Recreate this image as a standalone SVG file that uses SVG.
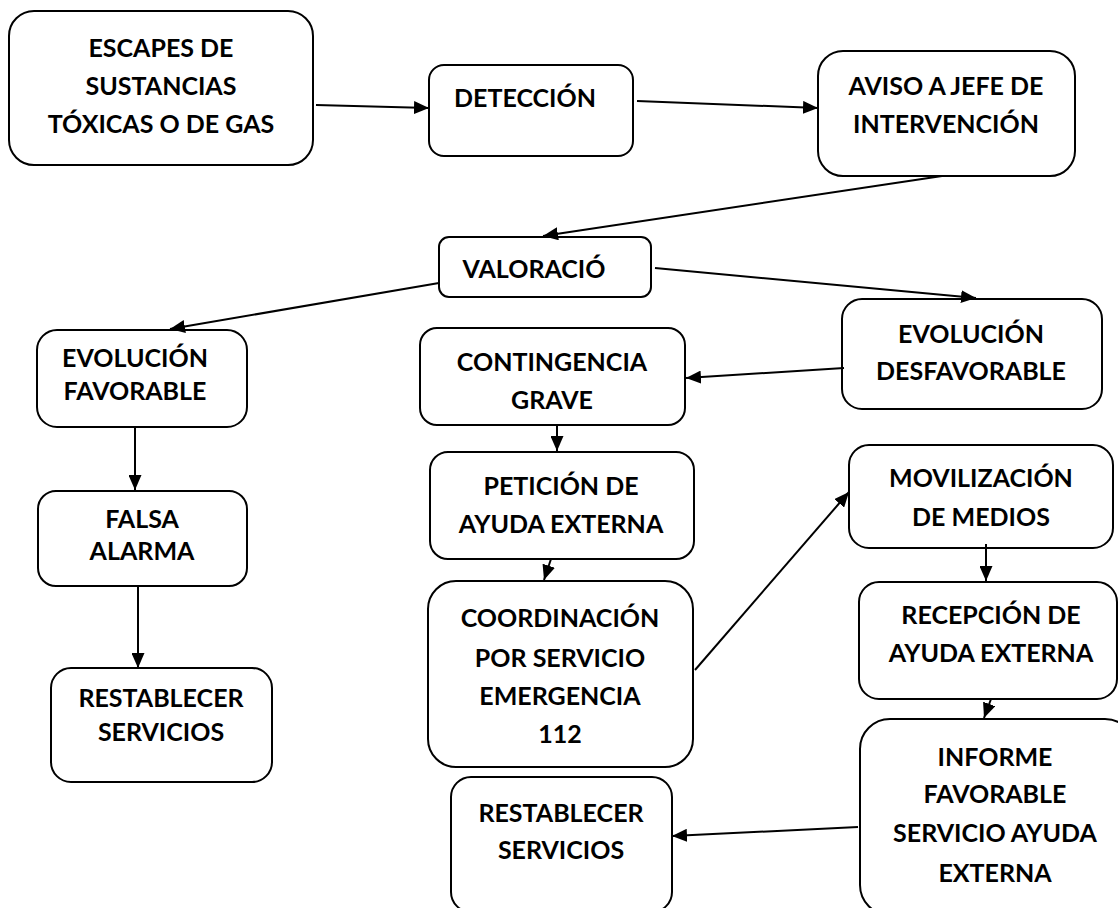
<svg xmlns="http://www.w3.org/2000/svg" width="1118" height="908" viewBox="0 0 1118 908">
<style>
rect{fill:#fff;stroke:#000;stroke-width:2}
text{font-family:Lato,"Liberation Sans",sans-serif;font-weight:bold;font-size:25px;fill:#000;text-anchor:middle}
.c line{stroke:#000;stroke-width:2;marker-end:url(#ah)}
</style>
<defs>
<marker id="ah" markerUnits="userSpaceOnUse" markerWidth="15" markerHeight="13" refX="15" refY="6.5" orient="auto">
<path d="M0,0 L15,6.5 L0,13 z" fill="#000"/>
</marker>
</defs>
<rect x="0" y="0" width="1118" height="908" style="stroke:none"/>
<g id="n1"><rect x="9" y="11" width="304" height="154" rx="25"/>
<text x="161" y="57">ESCAPES DE</text><text x="161" y="95">SUSTANCIAS</text><text x="161" y="133">TÓXICAS O DE GAS</text></g>
<g id="n2"><rect x="429" y="65" width="204" height="91" rx="15"/>
<text x="525" y="107">DETECCIÓN</text></g>
<g id="n3"><rect x="818" y="51" width="257" height="125" rx="25"/>
<text x="946" y="95">AVISO A JEFE DE</text><text x="946" y="133">INTERVENCIÓN</text></g>
<g id="n4"><rect x="439" y="237" width="212" height="60" rx="10"/>
<text x="534" y="278">VALORACIÓ</text></g>
<g id="n5"><rect x="842" y="299" width="260" height="110" rx="20"/>
<text x="971" y="343">EVOLUCIÓN</text><text x="971" y="380">DESFAVORABLE</text></g>
<g id="n6"><rect x="37" y="330" width="210" height="97" rx="20"/>
<text x="135" y="367">EVOLUCIÓN</text><text x="135" y="400">FAVORABLE</text></g>
<g id="n7"><rect x="420" y="328" width="265" height="97" rx="17"/>
<text x="552" y="371">CONTINGENCIA</text><text x="552" y="409">GRAVE</text></g>
<g id="n8"><rect x="38" y="491" width="209" height="95" rx="18"/>
<text x="142" y="528">FALSA</text><text x="142" y="560">ALARMA</text></g>
<g id="n9"><rect x="51" y="668" width="221" height="114" rx="20"/>
<text x="161" y="707">RESTABLECER</text><text x="161" y="741">SERVICIOS</text></g>
<g id="n10"><rect x="430" y="452" width="264" height="107" rx="18"/>
<text x="561" y="495">PETICIÓN DE</text><text x="561" y="533">AYUDA EXTERNA</text></g>
<g id="n11"><rect x="428" y="581" width="265" height="186" rx="28"/>
<text x="560" y="627">COORDINACIÓN</text><text x="560" y="667">POR SERVICIO</text><text x="560" y="705">EMERGENCIA</text><text x="560" y="743">112</text></g>
<g id="n12"><rect x="849" y="445" width="264" height="103" rx="20"/>
<text x="981" y="487">MOVILIZACIÓN</text><text x="981" y="526">DE MEDIOS</text></g>
<g id="n13"><rect x="859" y="582" width="258" height="117" rx="20"/>
<text x="991" y="624">RECEPCIÓN DE</text><text x="991" y="662">AYUDA EXTERNA</text></g>
<g id="n14"><rect x="860" y="719" width="275" height="196" rx="30"/>
<text x="995" y="766">INFORME</text><text x="995" y="803">FAVORABLE</text><text x="995" y="842">SERVICIO AYUDA</text><text x="995" y="882">EXTERNA</text></g>
<g id="n15"><rect x="451" y="777" width="221" height="135" rx="20"/>
<text x="561" y="822">RESTABLECER</text><text x="561" y="859">SERVICIOS</text></g>
<g id="connectors" class="c">
<line x1="316" y1="105" x2="429" y2="108"/>
<line x1="637" y1="101" x2="818" y2="108"/>
<line x1="942" y1="176" x2="543" y2="236"/>
<line x1="655" y1="268" x2="976" y2="298"/>
<line x1="439" y1="283" x2="170" y2="329"/>
<line x1="844" y1="368" x2="686" y2="378"/>
<line x1="557" y1="425" x2="557" y2="451"/>
<line x1="135" y1="427" x2="135" y2="490"/>
<line x1="138" y1="586" x2="138" y2="668"/>
<line x1="551" y1="559" x2="544" y2="580"/>
<line x1="695" y1="670" x2="849" y2="492"/>
<line x1="986" y1="544" x2="986" y2="581"/>
<line x1="991" y1="699" x2="984" y2="718"/>
<line x1="858" y1="827" x2="672" y2="836"/>
</g>
</svg>
